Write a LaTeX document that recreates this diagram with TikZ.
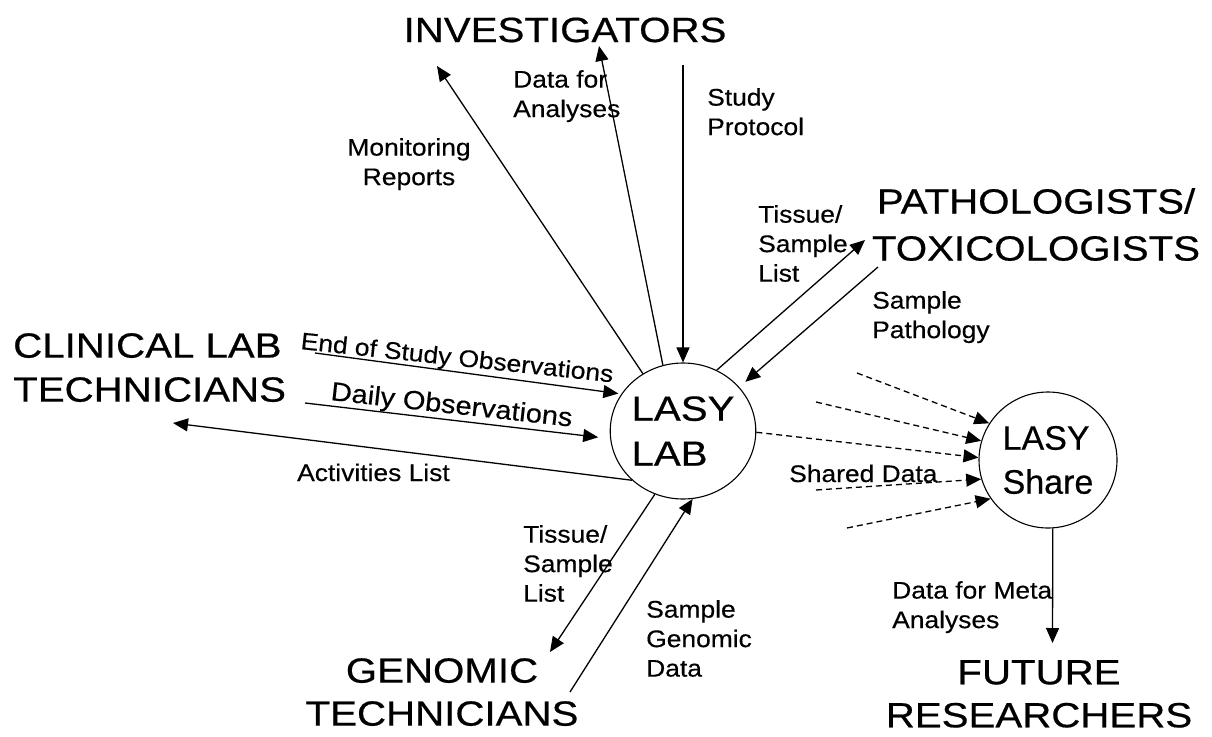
\documentclass[tikz,border=0pt]{standalone}
\usepackage{fontspec}
\setmainfont{Liberation Sans}[FakeBold=0.4]
\newfontfamily\actorfont[FakeStretch=1.15,FakeBold=0.5]{Liberation Sans}
\newfontfamily\flowfont[FakeStretch=1.1,FakeBold=0.4]{Liberation Sans}
\usetikzlibrary{arrows.meta,shapes.geometric}
\begin{document}
\begin{tikzpicture}[x=1pt,y=-1pt,
  actor/.style={inner sep=0pt,font=\actorfont\fontsize{35}{44}\selectfont},
  flowlbl/.style={inner sep=0pt,font=\flowfont\fontsize{24}{29.5}\selectfont},
  store/.style={draw,line width=1.1pt,ellipse,inner sep=0pt},
  flow/.style={line width=1.3pt,-{Triangle[length=15pt,width=13pt]}},
  shared/.style={flow,dash pattern=on 6pt off 4pt},
]
\useasboundingbox (0,0) rectangle (1212,736);

% data stores
\node[store,minimum width=143pt,minimum height=136pt,align=left,
      font=\actorfont\fontsize{35}{45}\selectfont] (lab) at (683,431) {LASY\\LAB};
\node[store,minimum width=138pt,minimum height=136pt,align=left,
      font=\fontsize{34}{44}\selectfont] (share) at (1048,460) {LASY\\Share};

% external actors
\node[actor,anchor=base] (inv) at (565,42) {INVESTIGATORS};
\node[actor,align=center,anchor=north,font=\actorfont\fontsize{35}{47}\selectfont]
  (path) at (1036,188) {PATHOLOGISTS/\\TOXICOLOGISTS};
\node[actor,align=left,anchor=north west] (clin) at (13,333) {CLINICAL LAB\\TECHNICIANS};
\node[actor,align=center,anchor=north,font=\actorfont\fontsize{35}{43}\selectfont]
  (gen) at (442,658) {GENOMIC\\TECHNICIANS};
\node[actor,align=center,anchor=north,font=\actorfont\fontsize{35}{43}\selectfont]
  (fut) at (1039,660) {FUTURE\\RESEARCHERS};

% free ends of the flows
\coordinate (monTip) at (437,66);
\coordinate (anaTip) at (599,46);
\coordinate (protoTop) at (683,65);
\coordinate (tisUpTip) at (865,240);
\coordinate (pathoTail) at (878,267);
\coordinate (endTail) at (315,353);
\coordinate (dailyTail) at (305,403);
\coordinate (actTip) at (173,423);
\coordinate (tisDnTip) at (550,652);
\coordinate (genoTail) at (570,692);
\coordinate (shA) at (857,373);
\coordinate (shB) at (816,402);
\coordinate (shD) at (816,490);
\coordinate (shE) at (847,528);
\coordinate (metaTip) at (1052.5,643);

% flows between LASY Lab and the actors
\draw[flow] (lab.125) -- (monTip);
\draw[flow] (lab.107) -- (anaTip);
\draw[flow] (protoTop) -- (lab.north);
\draw[flow] (lab.61) -- (tisUpTip);
\draw[flow,shorten >=8pt] (pathoTail) -- (lab.38);
\draw[flow,shorten >=3pt] (endTail) -- (lab.149);
\draw[flow,shorten >=12pt] (dailyTail) -- (lab.186);
\draw[flow] (lab.224) -- (actTip);
\draw[flow] (lab.246) -- (tisDnTip);
\draw[flow] (genoTail) -- (lab.278);

% shared data into LASY Share
\draw[shared] (shA) -- (share.148);
\draw[shared] (shB) -- (share.164);
\draw[shared] (lab.359) -- (share.178);
\draw[shared] (shD) -- (share.196);
\draw[shared] (shE) -- (share.214);
\draw[flow] (share.274) -- (metaTip);

% flow labels
\node[flowlbl,align=left,anchor=north west] (lAna) at (513,70) {Data for\\Analyses};
\node[flowlbl,align=left,anchor=north west] (lProto) at (707,88) {Study\\Protocol};
\node[flowlbl,align=center,anchor=north] (lMon) at (409,138) {Monitoring\\Reports};
\node[flowlbl,align=left,anchor=north west] (lTisUp) at (758,205) {Tissue/\\Sample\\List};
\node[flowlbl,align=left,anchor=north west] (lPatho) at (872,291) {Sample\\Pathology};
\node[flowlbl,anchor=base west,rotate=-6.1] (lEnd) at (300,349) {End of Study Observations};
\node[flowlbl,anchor=base west,rotate=-6.3,font=\flowfont\fontsize{26.3}{30}\selectfont]
  (lDaily) at (330,400) {Daily Observations};
\node[flowlbl,anchor=base west] (lAct) at (297,481) {Activities List};
\node[flowlbl,anchor=base west] (lShared) at (789,482) {Shared Data};
\node[flowlbl,align=left,anchor=north west] (lTisDn) at (523,525) {Tissue/\\Sample\\List};
\node[flowlbl,align=left,anchor=north west] (lGeno) at (646,600) {Sample\\Genomic\\Data};
\node[flowlbl,align=left,anchor=north west] (lMeta) at (892,581) {Data for Meta\\Analyses};
\end{tikzpicture}
\end{document}
